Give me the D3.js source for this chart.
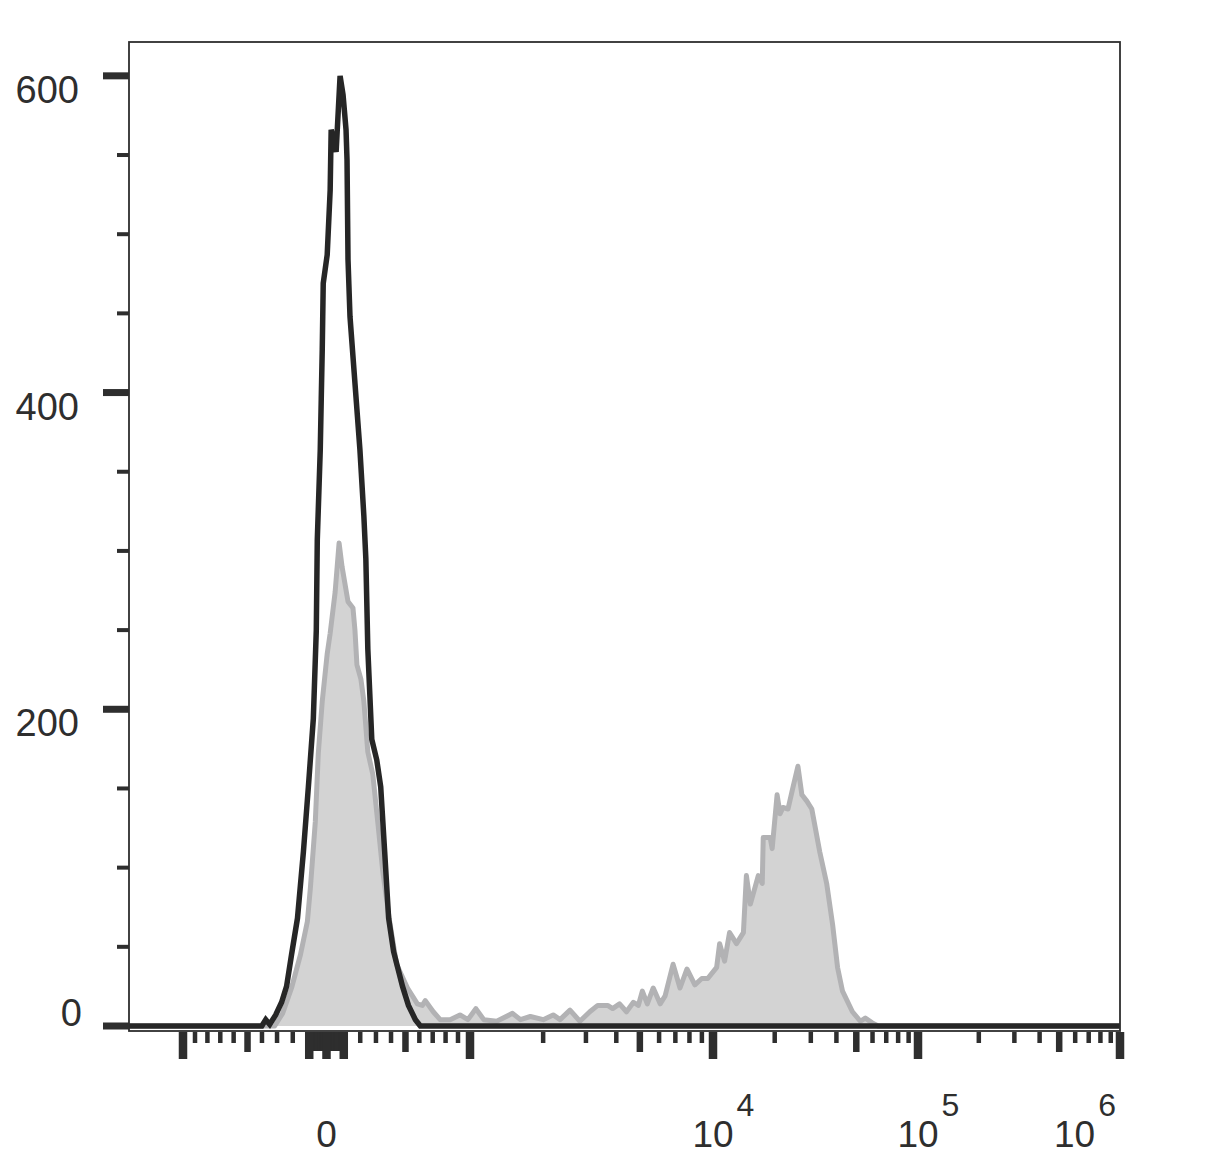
<!DOCTYPE html>
<html>
<head>
<meta charset="utf-8">
<script src="https://cdn.jsdelivr.net/npm/d3@7"></script>
<style>
  html, body { margin: 0; padding: 0; background: #fff; }
  svg { display: block; font-family: "Liberation Sans", Arial, sans-serif; }
</style>
</head>
<body>
<svg id="chart" width="1216" height="1170"></svg>
<script>
// histogram data: display channel (0-1000 across the axis) and event count
const BLACK_CHANNEL = [0, 134, 138, 142, 148, 154, 159, 164, 170, 176, 181, 186, 189, 190, 193, 194, 195, 196, 200, 203, 204, 209, 213, 216, 219, 220, 221, 223, 228, 233, 237, 239, 241, 245, 250, 254, 258, 262, 267, 276, 282, 289, 294, 1000];
const BLACK_COUNT = [0, 0, 4, 1, 7, 15, 25, 45, 68, 110, 151, 194, 250, 307, 364, 396, 427, 469, 487, 528, 566, 552, 600, 588, 566, 547, 484, 448, 406, 364, 322, 295, 238, 181, 168, 151, 110, 68, 47, 25, 13, 4, 0, 0];

const GREY_CHANNEL = [0, 147, 155, 164, 173, 180, 183, 188, 191, 195, 200, 203, 208, 212, 215, 221, 226, 228, 230, 234, 237, 241, 246, 251, 256, 263, 270, 281, 291, 296, 299, 307, 314, 324, 334, 342, 350, 358, 371, 387, 395, 405, 418, 428, 435, 445, 455, 465, 473, 483, 488, 495, 502, 509, 514, 518, 523, 529, 536, 541, 549, 556, 563, 571, 578, 584, 593, 596, 601, 606, 613, 620, 623, 627, 635, 639, 640, 647, 649, 654, 657, 660, 665, 669, 675, 679, 684, 689, 697, 704, 710, 715, 720, 730, 738, 743, 750, 756, 1000];
const GREY_COUNT = [0, 0, 8, 24, 45, 66, 87, 129, 172, 205, 235, 248, 274, 305, 290, 268, 264, 250, 228, 219, 205, 173, 159, 129, 98, 66, 39, 24, 14, 13, 16, 9, 4, 4, 7, 4, 11, 4, 3, 8, 4, 6, 4, 7, 4, 10, 3, 9, 13, 13, 11, 14, 9, 15, 13, 22, 14, 24, 14, 19, 39, 24, 36, 26, 30, 30, 37, 52, 41, 59, 52, 59, 95, 77, 95, 90, 119, 119, 112, 146, 134, 138, 137, 148, 164, 146, 142, 137, 110, 90, 64, 37, 22, 9, 3, 5, 2, 0, 0];

const Y_MAJOR_TICKS = [0, 200, 400, 600];
const Y_MINOR_TICKS = [50, 100, 150, 250, 300, 350, 450, 500, 550];

const X_MAJOR_TICKS = [-1000, -100, 0, 100, 1000, 1e4, 1e5, 1e6];
const X_MEDIUM_TICKS = [-500, 500, 5e3, 5e4, 5e5];
const X_NEAR_ZERO_TICKS = [-90, -80, -70, -60, -50, -40, -30, -20, -10, 10, 20, 30, 40, 50, 60, 70, 80, 90];
const X_MINOR_STEPS = [2, 3, 4, 6, 7, 8, 9];
const X_MINOR_DECADES = [-100, 100, 1e3, 1e4, 1e5];

const X_LABEL_VALUES = [0, 1e4, 1e5, 1e6];
const X_LABEL_EXPONENTS = ['', '4', '5', '6'];

const svg = d3.select('#chart');
const plot = { left: 129, right: 1120, top: 42, bottom: 1031 };
const INK = '#2e2e2e';

const x = d3.scaleLinear().domain([0, 1000]).range([plot.left, plot.right]);
const y = d3.scaleLinear().domain([0, 622]).range([1026, 41]);

// biexponential-looking axis: near-linear around zero, log above 10^3
const xInner = d3.scaleSymlog().constant(2000).domain([-1000, 1000]).range([183, 470]);
const xOuter = d3.scaleLog().domain([1e3, 1e4, 1e5, 1e6]).range([470, 713, 918, 1120]);
const xValue = v => (v <= 1000 ? xInner(v) : xOuter(v));

svg.append('rect').attr('width', 1216).attr('height', 1170).attr('fill', '#fff');

const grey = GREY_CHANNEL.map((c, i) => ({ c, n: GREY_COUNT[i] }));
const black = BLACK_CHANNEL.map((c, i) => ({ c, n: BLACK_COUNT[i] }));

svg.append('path')
  .datum(grey)
  .attr('fill', '#d3d3d3')
  .attr('d', d3.area().x(d => x(d.c)).y0(y(0)).y1(d => y(d.n)));

svg.append('path')
  .datum(grey)
  .attr('fill', 'none')
  .attr('stroke', '#b2b2b4')
  .attr('stroke-width', 5)
  .attr('stroke-linejoin', 'round')
  .attr('d', d3.line().x(d => x(d.c)).y(d => y(d.n)));

svg.append('path')
  .datum(black)
  .attr('fill', 'none')
  .attr('stroke', '#262626')
  .attr('stroke-width', 5.5)
  .attr('d', d3.line().x(d => x(d.c)).y(d => y(d.n)));

// frame
svg.append('rect')
  .attr('x', plot.left)
  .attr('y', plot.top)
  .attr('width', plot.right - plot.left)
  .attr('height', plot.bottom - plot.top)
  .attr('fill', 'none')
  .attr('stroke', INK)
  .attr('stroke-width', 1.8);

// y ticks
const yAxis = svg.append('g').attr('fill', INK);
yAxis.selectAll('.major').data(Y_MAJOR_TICKS).enter().append('rect')
  .attr('x', 103).attr('width', plot.left - 103)
  .attr('y', d => y(d) - 3.5).attr('height', 7);
yAxis.selectAll('.minor').data(Y_MINOR_TICKS).enter().append('rect')
  .attr('x', 117).attr('width', plot.left - 117)
  .attr('y', d => y(d) - 2).attr('height', 4);
yAxis.selectAll('text').data(Y_MAJOR_TICKS).enter().append('text')
  .attr('x', d => (d === 0 ? 82 : 79))
  .attr('y', d => (d === 0 ? y(d) : y(d) + 27))
  .attr('text-anchor', 'end')
  .attr('font-size', 38)
  .text(d => d);

// x ticks
const minorTicks = X_MINOR_DECADES.flatMap(d => X_MINOR_STEPS.map(m => m * d));
const xAxis = svg.append('g').attr('fill', INK);
const tickTop = plot.bottom + 1;
function drawTicks(values, width, length) {
  xAxis.append('g').selectAll('rect').data(values).enter().append('rect')
    .attr('x', d => xValue(d) - width / 2)
    .attr('width', width)
    .attr('y', tickTop)
    .attr('height', length);
}
drawTicks(minorTicks, 4.5, 11);
drawTicks(X_NEAR_ZERO_TICKS, 4, 19);
drawTicks(X_MEDIUM_TICKS, 6.5, 20);
drawTicks(X_MAJOR_TICKS, 8.5, 27);

const labels = xAxis.selectAll('text.xl').data(X_LABEL_VALUES).enter().append('text')
  .attr('class', 'xl')
  .attr('y', 1147)
  .attr('font-size', 37);
labels.append('tspan').text((d, i) => (X_LABEL_EXPONENTS[i] ? '10' : d));
labels.append('tspan')
  .attr('dy', -31)
  .attr('dx', 3)
  .attr('font-size', 32)
  .text((d, i) => X_LABEL_EXPONENTS[i]);
labels.each(function (d) {
  const node = d3.select(this);
  const baseWidth = this.firstChild.getComputedTextLength();
  const total = this.getComputedTextLength() + 3;
  let left = xValue(d) - baseWidth / 2;
  if (left + total > 1116) left = 1116 - total;
  node.attr('x', left);
});
</script>
</body>
</html>
